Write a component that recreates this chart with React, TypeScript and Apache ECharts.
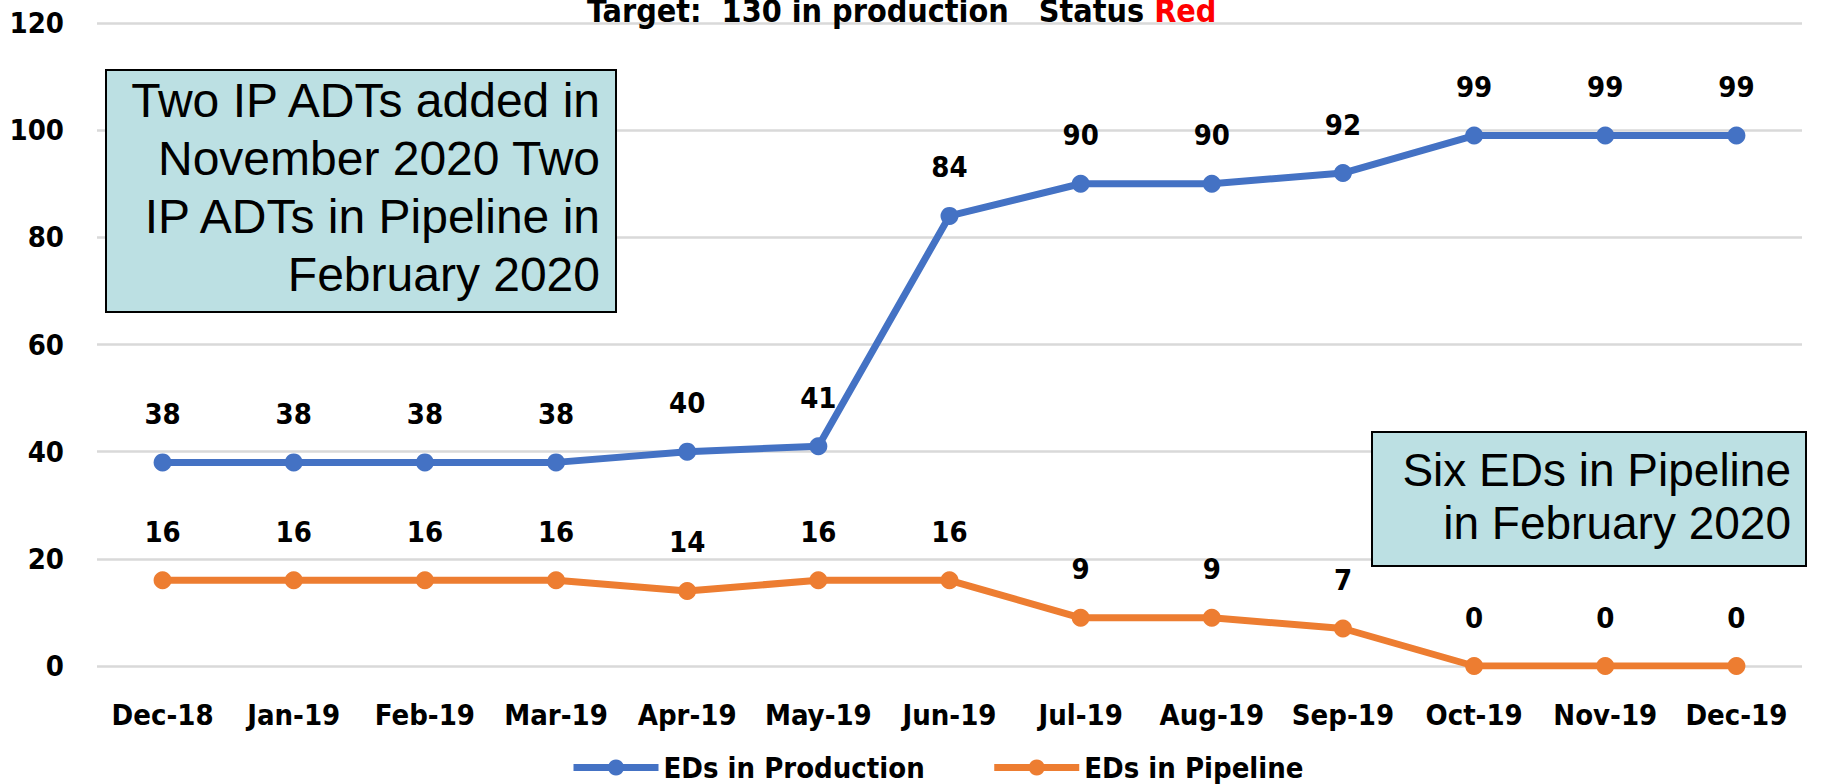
import React, { useEffect, useRef } from "react";
import * as echarts from "echarts";

const categories = ["Dec-18", "Jan-19", "Feb-19", "Mar-19", "Apr-19", "May-19", "Jun-19", "Jul-19", "Aug-19", "Sep-19", "Oct-19", "Nov-19", "Dec-19"];
const production = [38, 38, 38, 38, 40, 41, 84, 90, 90, 92, 99, 99, 99];
const pipeline = [16, 16, 16, 16, 14, 16, 16, 9, 9, 7, 0, 0, 0];
const seriesNames = ["EDs in Production", "EDs in Pipeline"];
const titleText = "Target:  130 in production   Status ";
const statusText = "Red";
const note1 = "Two IP ADTs added in\nNovember 2020 Two\nIP ADTs in Pipeline in\nFebruary 2020";
const note2 = "Six EDs in Pipeline\nin February 2020";

const NARROW = "'Liberation Sans Narrow', 'DejaVu Sans Condensed', sans-serif";
const SANS = "'Liberation Sans', Arial, sans-serif";

export default function App() {
  const ref = useRef<HTMLDivElement>(null);
  useEffect(() => {
    if (!ref.current) return;
    const chart = echarts.init(ref.current, null, { renderer: "svg" });
    const labelStyle = {
      show: true,
      position: "top",
      distance: 25,
      fontFamily: NARROW,
      fontWeight: "bold",
      fontSize: 29,
      color: "#000",
    };
    chart.setOption({
      animation: false,
      backgroundColor: "#fff",
      title: {
        text: titleText + "{red|" + statusText + "}",
        left: 582,
        top: -10,
        textStyle: {
          fontFamily: NARROW,
          fontWeight: "bold",
          fontSize: 32,
          color: "#000",
          rich: {
            red: { fontFamily: NARROW, fontWeight: "bold", fontSize: 32, color: "#FF0000" },
          },
        },
      },
      grid: { left: 97, right: 21, top: 23, bottom: 118, containLabel: false },
      legend: {
        data: seriesNames,
        left: 565,
        top: 748,
        itemWidth: 85,
        itemHeight: 20,
        itemGap: 66,
        lineStyle: { width: 7 },
        textStyle: { fontFamily: NARROW, fontWeight: "bold", fontSize: 29, color: "#000" },
      },
      xAxis: {
        type: "category",
        data: categories,
        boundaryGap: true,
        axisLine: { show: false },
        axisTick: { show: false },
        axisLabel: {
          interval: 0,
          margin: 34,
          fontFamily: NARROW,
          fontWeight: "bold",
          fontSize: 29,
          color: "#000",
        },
      },
      yAxis: {
        type: "value",
        min: 0,
        max: 120,
        interval: 20,
        axisLine: { show: false },
        axisTick: { show: false },
        splitLine: { lineStyle: { color: "#D9D9D9", width: 2.5 } },
        axisLabel: {
          margin: 33,
          fontFamily: NARROW,
          fontWeight: "bold",
          fontSize: 29,
          color: "#000",
        },
      },
      series: [
        {
          name: seriesNames[0],
          type: "line",
          data: production,
          symbol: "circle",
          symbolSize: 18,
          lineStyle: { color: "#4472C4", width: 7 },
          itemStyle: { color: "#4472C4" },
          label: labelStyle,
        },
        {
          name: seriesNames[1],
          type: "line",
          data: pipeline,
          symbol: "circle",
          symbolSize: 18,
          lineStyle: { color: "#ED7D31", width: 7 },
          itemStyle: { color: "#ED7D31" },
          label: labelStyle,
        },
      ],
      graphic: [
        {
          type: "rect",
          shape: { x: 106, y: 70, width: 510, height: 242 },
          style: { fill: "#BCE0E3", stroke: "#000", lineWidth: 2 },
          z: 10,
        },
        {
          type: "text",
          x: 600,
          y: 71,
          style: {
            text: note1,
            align: "right",
            verticalAlign: "top",
            fontFamily: SANS,
            fontSize: 48,
            lineHeight: 58,
            fill: "#000",
          },
          z: 11,
        },
        {
          type: "rect",
          shape: { x: 1372, y: 432, width: 434, height: 134 },
          style: { fill: "#BCE0E3", stroke: "#000", lineWidth: 2 },
          z: 10,
        },
        {
          type: "text",
          x: 1791,
          y: 443,
          style: {
            text: note2,
            align: "right",
            verticalAlign: "top",
            fontFamily: SANS,
            fontSize: 46,
            lineHeight: 53,
            fill: "#000",
          },
          z: 11,
        },
      ],
    });
    return () => chart.dispose();
  }, []);
  return <div ref={ref} style={{ position: "fixed", left: 0, top: 0, width: 1823, height: 784 }} />;
}
